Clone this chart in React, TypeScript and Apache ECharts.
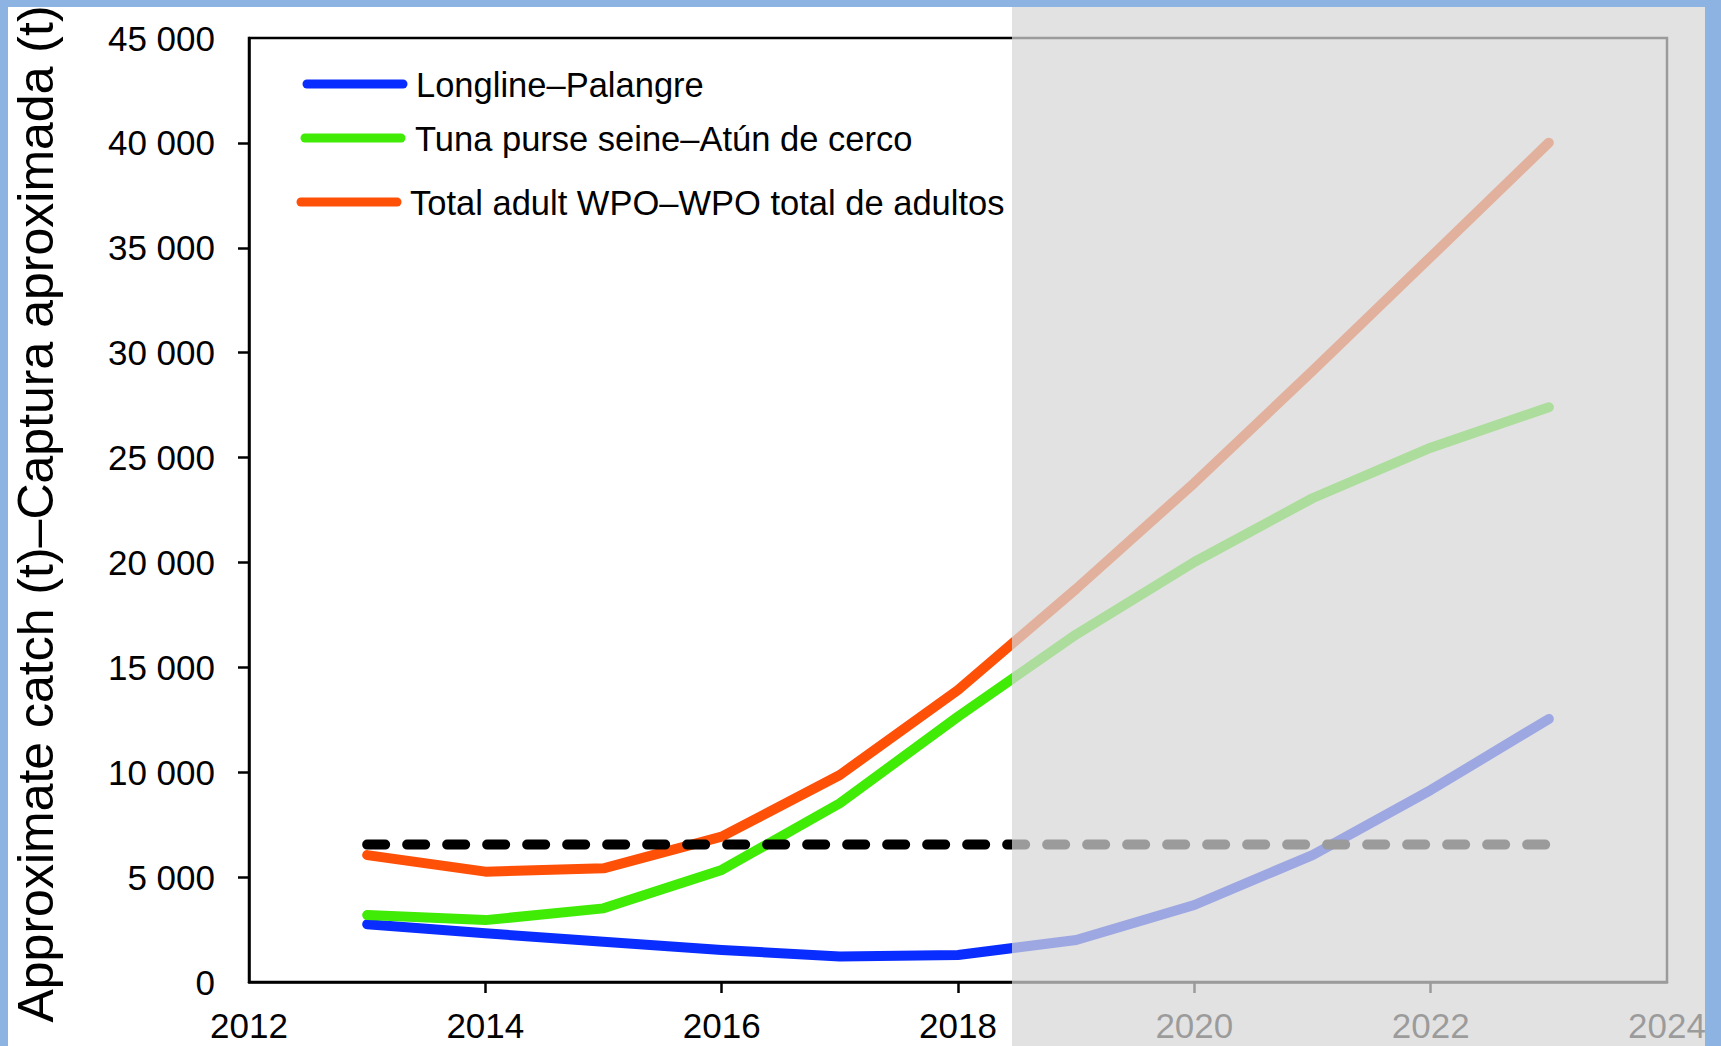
import React, { useEffect, useRef } from "react";
import * as echarts from "echarts";

const years = [2013, 2014, 2015, 2016, 2017, 2018, 2019, 2020, 2021, 2022, 2023];
const longline = [2750, 2320, 1920, 1530, 1210, 1290, 2000, 3670, 6050, 9150, 12540];
const purseSeine = [3190, 2950, 3510, 5340, 8520, 12650, 16570, 20020, 23060, 25470, 27400];
const totalAdult = [6050, 5260, 5420, 6930, 9870, 13920, 18740, 23790, 29130, 34560, 40010];
const thresholdYears = [2013, 2023];
const thresholdValue = 6550;

const seriesNames = [
  "Longline\u2013Palangre",
  "Tuna purse seine\u2013At\u00fan de cerco",
  "Total adult WPO\u2013WPO total de adultos",
];
const seriesColors = ["#0A2DFF", "#40EB06", "#FF5008"];
const yTitle = "Approximate catch (t)\u2013Captura aproximada (t)";
const xTicks = [2014, 2016, 2018, 2020, 2022];
const yTicks = [5000, 10000, 15000, 20000, 25000, 30000, 35000, 40000];

const FONT = "'Liberation Sans', Arial, sans-serif";

export default function App() {
  const ref = useRef<HTMLDivElement>(null);
  useEffect(() => {
    if (!ref.current) return;
    const chart = echarts.init(ref.current, null, { renderer: "svg" });
    const pair = (vals: number[]) => years.map((y, i) => [y, vals[i]]);
    const lineSeries = (name: string, color: string, vals: number[]) => ({
      type: "line",
      name,
      data: pair(vals),
      showSymbol: false,
      symbol: "none",
      lineStyle: { color, width: 10, cap: "round", join: "round" },
      z: 3,
    });
    const legendY = [84, 138, 202];
    const legendLineX = [[307, 403], [305, 401], [301, 397]];
    const legendTextX = [416, 415, 410];
    const legendGraphics: any[] = [];
    seriesNames.forEach((n, i) => {
      legendGraphics.push({
        type: "line",
        shape: { x1: legendLineX[i][0], y1: legendY[i], x2: legendLineX[i][1], y2: legendY[i] },
        style: { stroke: seriesColors[i], lineWidth: 9, lineCap: "round" },
        z: 10,
      });
      legendGraphics.push({
        type: "text",
        x: legendTextX[i],
        y: legendY[i] + 1,
        style: {
          text: n,
          fontSize: 34.5,
          fontFamily: FONT,
          fill: "#000",
          textVerticalAlign: "middle",
          verticalAlign: "middle",
          textAlign: "left",
        },
        z: 10,
      });
    });
    chart.setOption({
      animation: false,
      backgroundColor: "#ffffff",
      grid: {
        left: 249,
        top: 38,
        right: 54,
        bottom: 64,
        show: true,
        borderColor: "#000",
        borderWidth: 2.5,
        backgroundColor: "transparent",
      },
      xAxis: {
        type: "value",
        min: 2012,
        max: 2024,
        interval: 2,
        splitLine: { show: false },
        axisLine: { show: true, lineStyle: { color: "#000", width: 2.5 } },
        axisTick: {
          show: true,
          inside: false,
          length: 11,
          lineStyle: { color: "#000", width: 2.5 },
          customValues: xTicks,
        },
        axisLabel: {
          color: "#000",
          fontSize: 35,
          fontFamily: FONT,
          margin: 26,
          formatter: (v: number) => String(v),
          showMinLabel: true,
          showMaxLabel: true,
        },
      },
      yAxis: {
        type: "value",
        min: 0,
        max: 45000,
        interval: 5000,
        splitLine: { show: false },
        axisLine: { show: true, lineStyle: { color: "#000", width: 2.5 } },
        axisTick: {
          show: true,
          inside: false,
          length: 11,
          lineStyle: { color: "#000", width: 2.5 },
          customValues: yTicks,
        },
        axisLabel: {
          color: "#000",
          fontSize: 35,
          fontFamily: FONT,
          margin: 34,
          formatter: (v: number) => (v === 0 ? "0" : Math.floor(v / 1000) + " 000"),
          showMinLabel: true,
          showMaxLabel: true,
        },
      },
      series: [
        lineSeries(seriesNames[0], seriesColors[0], longline),
        lineSeries(seriesNames[1], seriesColors[1], purseSeine),
        lineSeries(seriesNames[2], seriesColors[2], totalAdult),
        {
          type: "line",
          name: "threshold",
          data: thresholdYears.map((y) => [y, thresholdValue]),
          showSymbol: false,
          symbol: "none",
          lineStyle: { color: "#000", width: 10, type: [18, 22], cap: "round" },
          z: 4,
        },
      ],
      graphic: [
        { type: "rect", shape: { x: 0, y: 0, width: 1721, height: 7 }, style: { fill: "#8DB3E2" }, z: 50 },
        { type: "rect", shape: { x: 0, y: 0, width: 8, height: 1046 }, style: { fill: "#8DB3E2" }, z: 50 },
        { type: "rect", shape: { x: 1705, y: 0, width: 16, height: 1046 }, style: { fill: "#8DB3E2" }, z: 50 },
        {
          type: "text",
          x: 36,
          y: 514,
          rotation: Math.PI / 2,
          style: {
            text: yTitle,
            fontSize: 50,
            fontFamily: FONT,
            fill: "#000",
            textAlign: "center",
            textVerticalAlign: "middle",
            verticalAlign: "middle",
          },
          z: 10,
        },
        ...legendGraphics,
        {
          type: "rect",
          shape: { x: 1012, y: 7, width: 693, height: 1039 },
          style: { fill: "rgba(215,215,215,0.72)" },
          z: 100,
        },
      ],
    });
    return () => chart.dispose();
  }, []);
  return (
    <div
      ref={ref}
      style={{ position: "fixed", left: 0, top: 0, width: 1721, height: 1046 }}
    />
  );
}
